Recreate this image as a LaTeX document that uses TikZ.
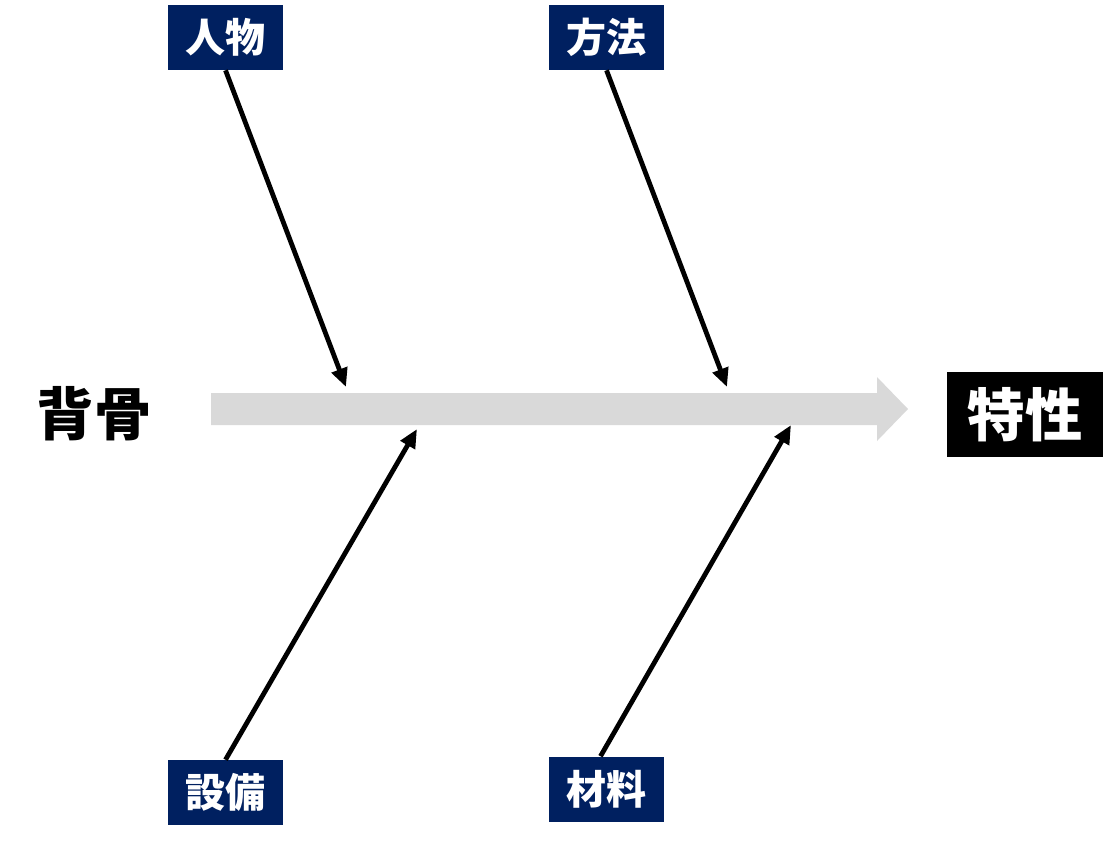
\documentclass[tikz,border=0pt]{standalone}
\usepackage{fontspec}
\newfontfamily\cjk{Noto Sans CJK JP}
\usetikzlibrary{arrows.meta}
\definecolor{causeblue}{RGB}{0,32,96}
\definecolor{spine}{RGB}{217,217,217}
\begin{document}
\begin{tikzpicture}[x=0.75pt,y=-0.75pt]
\tikzstyle{cause} = [fill=causeblue,text=white,inner sep=0pt,minimum width=86.25pt,minimum height=48.75pt,font=\cjk\bfseries\fontsize{30}{32}\selectfont] %cases des causes
\tikzstyle{bone} = [line width=3.6pt,-{Triangle[length=14pt,width=12pt]}] %fleches
\useasboundingbox (0,0) rectangle (1114,844);

%arete centrale
\fill[spine] (211,393)--(877,393)--(877,377)--(908,409)--(877,441)--(877,425)--(211,425)--cycle;

%noeuds
\node[font=\cjk\bfseries\fontsize{43}{46}\selectfont] (back) at (94,414) {背骨};
\node[fill=black,text=white,inner sep=0pt,minimum width=117pt,minimum height=63.75pt,font=\cjk\bfseries\fontsize{43}{46}\selectfont] (effect) at (1025,414.5) {特性};
\node[cause] (man) at (225.5,37.5) {人物};
\node[cause] (method) at (606.5,37.5) {方法};
\node[cause] (machine) at (225.5,792.5) {設備};
\node[cause] (material) at (606.5,789) {材料};

%pointes des fleches
\coordinate (tman) at (346,387);
\coordinate (tmethod) at (727,387);
\coordinate (tmachine) at (417,429);
\coordinate (tmaterial) at (791,425);

%tracer les aretes
\draw[bone] (man.south)--(tman);
\draw[bone] (method.south)--(tmethod);
\draw[bone] (machine.north)--(tmachine);
\draw[bone] ([xshift=-4.5pt]material.north)--(tmaterial);
\end{tikzpicture}
\end{document}
